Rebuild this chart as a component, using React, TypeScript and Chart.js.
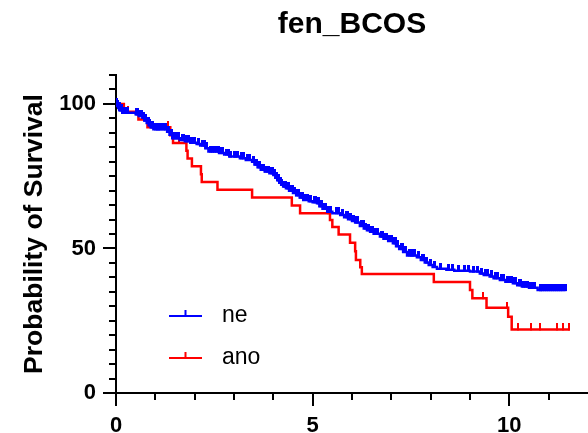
import React, { useEffect, useRef } from 'react';
import { Chart, registerables } from 'chart.js';

Chart.register(...registerables);

const TITLE = 'fen_BCOS';
const Y_TITLE = 'Probability of Survival';
const GROUP_NAMES = ['ne', 'ano'];
const GROUP_COLORS = ['#0000ff', '#ff0000'];

const X_MIN = 0;
const X_MAX = 12;
const Y_MIN = 0;
const Y_MAX = 110;
const X_LABELS = [0, 5, 10];
const Y_LABELS = [0, 50, 100];
const X_MINOR_STEP = 1;
const Y_MINOR_STEP = 5;

// group "ne" (blue)
const NE_TIMES = [0, 0.03, 0.06, 0.1, 0.16, 0.5, 0.58, 0.67, 0.72, 0.78, 0.83, 0.88, 0.95, 1.3, 1.36, 1.43, 1.62, 1.75, 1.89, 2.05, 2.14, 2.27, 2.35, 2.62, 2.75, 2.88, 3.15, 3.3, 3.46, 3.52, 3.6, 3.68, 3.78, 3.9, 4.0, 4.05, 4.1, 4.15, 4.2, 4.25, 4.32, 4.4, 4.5, 4.58, 4.67, 4.76, 4.9, 5.0, 5.11, 5.17, 5.25, 5.37, 5.5, 5.7, 5.8, 5.9, 6.0, 6.08, 6.2, 6.3, 6.38, 6.46, 6.55, 6.71, 6.8, 6.92, 7.04, 7.12, 7.2, 7.3, 7.4, 7.65, 7.75, 7.85, 7.95, 8.05, 8.16, 8.4, 8.6, 9.0, 9.25, 9.35, 9.5, 9.6, 9.76, 9.9, 10.09, 10.2, 10.32, 10.5, 10.72];
const NE_SURV = [100, 99.3, 98.6, 97.8, 96.9, 96.4, 95.8, 95.2, 94.3, 93.4, 92.6, 91.9, 91.2, 90.4, 89.3, 88.1, 87.5, 87.1, 86.6, 86.1, 85.6, 84.7, 83.5, 83.0, 82.5, 81.8, 81.2, 80.6, 80.0, 79.0, 78.1, 77.2, 76.6, 76.0, 75.4, 74.5, 73.6, 72.7, 72.0, 71.4, 70.8, 70.0, 69.2, 68.4, 67.6, 66.8, 66.3, 66.0, 65.6, 64.6, 63.7, 62.7, 62.2, 61.6, 60.8, 60.1, 59.5, 59.0, 57.8, 56.9, 56.3, 55.8, 55.1, 54.1, 53.4, 52.6, 51.8, 50.8, 49.8, 48.8, 47.6, 47.0, 46.0, 45.1, 44.3, 43.6, 43.0, 42.6, 42.3, 42.0, 41.3, 40.8, 40.3, 39.7, 39.1, 38.5, 38.0, 37.3, 36.8, 36.4, 35.6];
const NE_END = 11.43;
const NE_CENSOR = [0.01, 0.02, 0.04, 0.05, 0.07, 0.08, 0.1, 0.12, 0.14, 0.17, 0.2, 0.23, 0.25, 0.3, 0.52, 0.55, 0.6, 0.62, 0.65, 0.7, 0.73, 0.75, 0.8, 0.82, 0.86, 0.9, 0.93, 1.0, 1.05, 1.08, 1.12, 1.2, 1.25, 1.33, 1.38, 1.4, 1.46, 1.5, 1.55, 1.6, 1.68, 1.72, 1.8, 1.85, 1.9, 1.95, 2.0, 2.1, 2.2, 2.25, 2.3, 2.4, 2.45, 2.5, 2.55, 2.6, 2.65, 2.7, 2.8, 2.85, 2.92, 3.0, 3.05, 3.1, 3.2, 3.25, 3.35, 3.4, 3.5, 3.55, 3.58, 3.63, 3.66, 3.72, 3.75, 3.8, 3.85, 3.88, 3.95, 3.98, 4.02, 4.08, 4.12, 4.14, 4.18, 4.22, 4.28, 4.3, 4.35, 4.38, 4.45, 4.48, 4.55, 4.6, 4.63, 4.7, 4.73, 4.8, 4.85, 4.88, 4.95, 5.05, 5.08, 5.15, 5.2, 5.22, 5.3, 5.33, 5.4, 5.45, 5.6, 5.65, 5.75, 5.85, 5.88, 5.95, 6.05, 6.12, 6.15, 6.25, 6.28, 6.35, 6.42, 6.5, 6.52, 6.6, 6.65, 6.75, 6.78, 6.85, 6.88, 6.95, 7.0, 7.08, 7.1, 7.15, 7.25, 7.28, 7.35, 7.45, 7.5, 7.55, 7.6, 7.7, 7.8, 7.83, 7.9, 8.0, 8.1, 8.25, 8.45, 8.55, 8.7, 8.85, 8.95, 9.1, 9.2, 9.3, 9.4, 9.45, 9.55, 9.65, 9.7, 9.8, 9.85, 9.95, 10.0, 10.05, 10.12, 10.15, 10.25, 10.28, 10.35, 10.4, 10.45, 10.55, 10.6, 10.65, 10.78, 10.8, 10.85, 10.9, 10.95, 11.0, 11.05, 11.1, 11.15, 11.2, 11.25, 11.3, 11.35, 11.42];

// group "ano" (red)
const ANO_TIMES = [0, 0.2, 0.57, 0.8, 1.38, 1.45, 1.79, 1.82, 1.93, 2.16, 2.18, 2.58, 3.46, 4.47, 4.68, 5.44, 5.5, 5.66, 5.95, 6.08, 6.1, 6.21, 6.25, 8.08, 9.0, 9.06, 9.42, 9.97, 10.06];
const ANO_SURV = [100, 97.3, 94.6, 91.9, 89.2, 86.5, 83.8, 81.1, 78.4, 75.7, 73.0, 70.3, 67.6, 64.9, 62.2, 59.8, 57.4, 54.8, 52.0, 49.0, 46.0, 43.5, 41.2, 38.4, 35.6, 32.8, 29.5, 26.4, 22.0];
const ANO_END = 11.54;
const ANO_CENSOR = [0.3, 1.33, 1.6, 5.4, 9.34, 9.95, 10.22, 10.56, 10.77, 11.2, 11.37, 11.52];

const FONT = '"Liberation Sans", Arial, Helvetica, sans-serif';

function levelAt(times: number[], surv: number[], t: number) {
  let s = surv[0];
  for (let i = 0; i < times.length; i++) {
    if (times[i] <= t) s = surv[i];
  }
  return s;
}

function curveData(times: number[], surv: number[], end: number) {
  const pts = times.map((t, i) => ({ x: t, y: surv[i] }));
  pts.push({ x: end, y: surv[surv.length - 1] });
  return pts;
}

function censorData(times: number[], surv: number[], cens: number[]) {
  return cens.map((t) => ({ x: t, y: levelAt(times, surv, t) }));
}

function makeTick(color: string, w: number, h: number) {
  const c = document.createElement('canvas');
  c.width = w;
  c.height = h * 2;
  const g = c.getContext('2d')!;
  g.fillStyle = color;
  g.fillRect(0, 0, w, h + 1);
  return c;
}

const decorPlugin = {
  id: 'decor',
  afterDraw(chart: any) {
    const ctx = chart.ctx;
    const xs = chart.scales.x;
    const ys = chart.scales.y;
    const area = chart.chartArea;
    ctx.save();
    ctx.strokeStyle = '#000';
    ctx.lineWidth = 2;
    for (let v = X_MIN; v < X_MAX; v += X_MINOR_STEP) {
      const px = Math.round(xs.getPixelForValue(v));
      const len = X_LABELS.includes(v) ? 13 : 7;
      ctx.beginPath();
      ctx.moveTo(px, area.bottom);
      ctx.lineTo(px, area.bottom + len);
      ctx.stroke();
    }
    for (let v = Y_MIN; v <= Y_MAX; v += Y_MINOR_STEP) {
      const py = Math.round(ys.getPixelForValue(v));
      const len = Y_LABELS.includes(v) ? 13 : 7;
      ctx.beginPath();
      ctx.moveTo(area.left, py);
      ctx.lineTo(area.left - len, py);
      ctx.stroke();
    }
    // legend
    const legendX = 169;
    const legendY = [316, 358];
    GROUP_NAMES.forEach((name, i) => {
      const y = legendY[i];
      ctx.strokeStyle = GROUP_COLORS[i];
      ctx.lineWidth = 2;
      ctx.beginPath();
      ctx.moveTo(legendX, y);
      ctx.lineTo(legendX + 33, y);
      ctx.moveTo(legendX + 16.5, y);
      ctx.lineTo(legendX + 16.5, y - 6);
      ctx.stroke();
      ctx.fillStyle = '#000';
      ctx.font = `23px ${FONT}`;
      ctx.textAlign = 'left';
      ctx.textBaseline = 'middle';
      ctx.fillText(name, legendX + 53, y);
    });
    ctx.restore();
  },
};

export default function App() {
  const ref = useRef<HTMLCanvasElement>(null);
  useEffect(() => {
    if (!ref.current) return;
    const blueTick = makeTick(GROUP_COLORS[0], 3, 6);
    const redTick = makeTick(GROUP_COLORS[1], 2, 6);
    const chart = new Chart(ref.current, {
      type: 'line',
      data: {
        datasets: [
          {
            type: 'scatter',
            label: GROUP_NAMES[0] + ' censored',
            data: censorData(NE_TIMES, NE_SURV, NE_CENSOR),
            pointStyle: blueTick as any,
            borderColor: GROUP_COLORS[0],
            backgroundColor: GROUP_COLORS[0],
          },
          {
            label: GROUP_NAMES[0],
            data: curveData(NE_TIMES, NE_SURV, NE_END),
            borderColor: GROUP_COLORS[0],
            borderWidth: 2.5,
            stepped: 'before',
            pointRadius: 0,
            fill: false,
          },
          {
            type: 'scatter',
            label: GROUP_NAMES[1] + ' censored',
            data: censorData(ANO_TIMES, ANO_SURV, ANO_CENSOR),
            pointStyle: redTick as any,
            borderColor: GROUP_COLORS[1],
            backgroundColor: GROUP_COLORS[1],
          },
          {
            label: GROUP_NAMES[1],
            data: curveData(ANO_TIMES, ANO_SURV, ANO_END),
            borderColor: GROUP_COLORS[1],
            borderWidth: 2.5,
            stepped: 'before',
            pointRadius: 0,
            fill: false,
          },
        ],
      } as any,
      options: {
        animation: false,
        responsive: false,
        devicePixelRatio: 1,
        layout: { autoPadding: false, padding: { left: 0, right: 0, top: 0, bottom: 0 } },
        plugins: {
          legend: { display: false },
          tooltip: { enabled: false },
          title: {
            display: true,
            fullSize: false,
            text: TITLE,
            color: '#000',
            font: { family: FONT, size: 30, weight: 'bold' },
            padding: { top: 6.7, bottom: 32.3 },
          },
        },
        scales: {
          x: {
            type: 'linear',
            min: X_MIN,
            max: X_MAX,
            grid: { display: false, drawTicks: false },
            border: { display: true, color: '#000', width: 2 },
            afterBuildTicks: (scale: any) => {
              scale.ticks = X_LABELS.map((v) => ({ value: v }));
            },
            afterFit: (scale: any) => {
              scale.height = 40;
              scale.paddingLeft = 0;
              scale.paddingRight = 0;
            },
            ticks: {
              autoSkip: false,
              maxRotation: 0,
              padding: 20,
              color: '#000',
              font: { family: FONT, size: 22, weight: 'bold' },
              callback: (v: any) => String(v),
            },
          },
          y: {
            type: 'linear',
            min: Y_MIN,
            max: Y_MAX,
            grid: { display: false, drawTicks: false },
            border: { display: true, color: '#000', width: 2 },
            afterBuildTicks: (scale: any) => {
              scale.ticks = Y_LABELS.map((v) => ({ value: v }));
            },
            afterFit: (scale: any) => {
              scale.width = 116;
              scale.paddingTop = 0;
              scale.paddingBottom = 0;
            },
            ticks: {
              autoSkip: false,
              padding: 20,
              color: '#000',
              font: { family: FONT, size: 22, weight: 'bold' },
              callback: (v: any) => String(v),
            },
            title: {
              display: true,
              text: Y_TITLE,
              color: '#000',
              font: { family: FONT, size: 26.5, weight: 'bold' },
              padding: { top: 19, bottom: 0 },
            },
          },
        },
      } as any,
      plugins: [decorPlugin],
    });
    return () => chart.destroy();
  }, []);
  return (
    <div style={{ position: 'absolute', left: 0, top: 0, width: 588, height: 433 }}>
      <canvas ref={ref} width={588} height={433} />
    </div>
  );
}
